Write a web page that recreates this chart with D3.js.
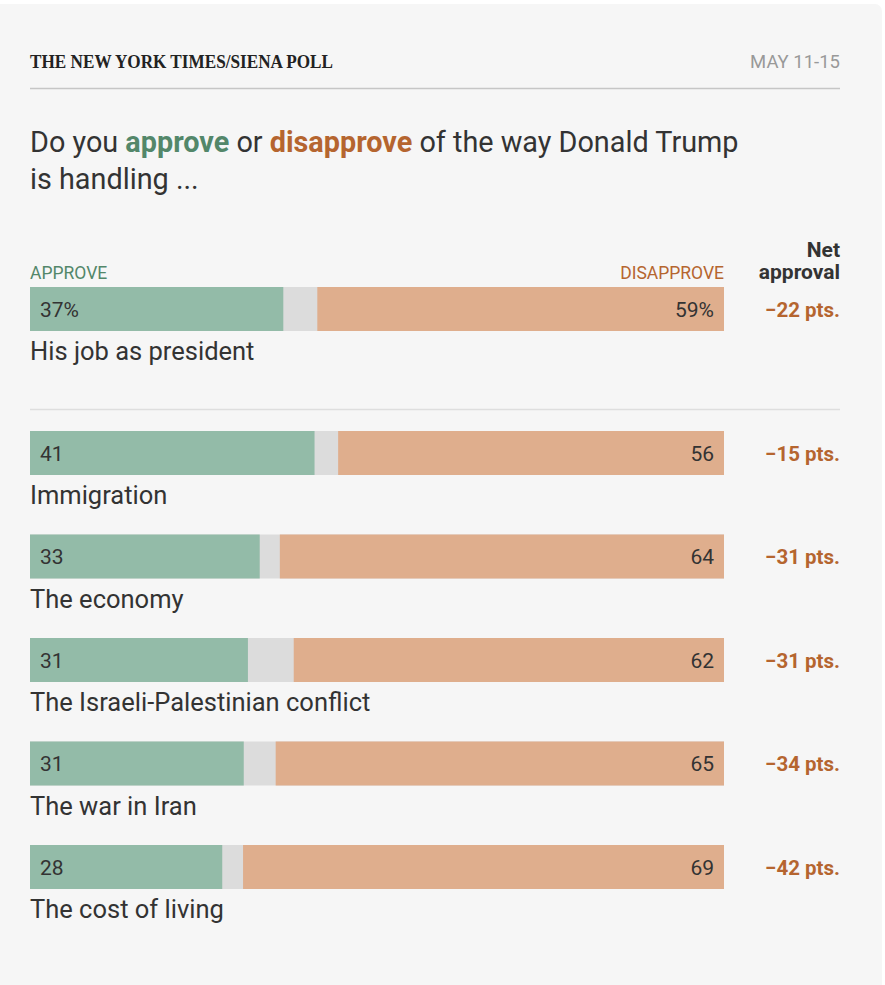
<!DOCTYPE html>
<html>
<head>
<meta charset="utf-8">
<title>Trump approval by issue</title>
<script src="https://d3js.org/d3.v7.min.js"></script>
<style>
  body { margin: 0; background: #fff; }
  text { font-family: Roboto, "Noto Sans", sans-serif; }
</style>
</head>
<body>
<div id="chart"></div>
<script>
// values (shares of respondents, %)
var overallLabel = "His job as president";
var overallApprove = 36.5;
var overallDisapprove = 58.6;
var overallNet = -22;

var issues = ["Immigration", "The economy", "The Israeli-Palestinian conflict", "The war in Iran", "The cost of living"];
var approve = [41.0, 33.1, 31.4, 30.8, 27.7];
var disapprove = [55.6, 64.0, 62.0, 64.6, 69.3];
var net = [-15, -31, -31, -34, -42];

var width = 885, height = 985;
var green = "#93bba8", orange = "#dfae8d", grey = "#dcdcdc";
var greenText = "#53876a", orangeText = "#b5652f", ink = "#333";

var svg = d3.select("#chart").append("svg")
    .attr("width", width)
    .attr("height", height);

// card
svg.append("rect")
    .attr("x", -10).attr("y", 4)
    .attr("width", 892).attr("height", 1000)
    .attr("rx", 7)
    .attr("fill", "#f6f6f6");

// header
svg.append("text")
    .attr("x", 30).attr("y", 68)
    .attr("textLength", 303)
    .attr("lengthAdjust", "spacingAndGlyphs")
    .style("font-family", "'Liberation Serif', serif")
    .style("font-weight", "bold")
    .style("font-size", "19px")
    .attr("fill", "#222")
    .text("THE NEW YORK TIMES/SIENA POLL");

svg.append("text")
    .attr("x", 840).attr("y", 68)
    .attr("text-anchor", "end")
    .style("font-size", "18.5px")
    .attr("fill", "#999")
    .text("MAY 11-15");

svg.append("line")
    .attr("x1", 30).attr("x2", 840)
    .attr("y1", 88.5).attr("y2", 88.5)
    .attr("stroke", "#c6c6c6")
    .attr("stroke-width", 1.5);

// question
var q = svg.append("text")
    .attr("x", 30).attr("y", 152)
    .style("font-size", "28.8px")
    .attr("fill", ink);
q.append("tspan").text("Do you ");
q.append("tspan").attr("fill", greenText).style("font-weight", "bold").text("approve");
q.append("tspan").text(" or ");
q.append("tspan").attr("fill", orangeText).style("font-weight", "bold").text("disapprove");
q.append("tspan").text(" of the way Donald Trump");

svg.append("text")
    .attr("x", 30).attr("y", 189)
    .style("font-size", "28.8px")
    .attr("fill", ink)
    .text("is handling ...");

// scales
var x = d3.scaleLinear().domain([0, 100]).range([30, 724]);
var barH = 44;
var y = d3.scaleLinear().domain([0, 1]).range([431, 534.5]);

// column heads
svg.append("text")
    .attr("x", 30).attr("y", 279)
    .style("font-size", "17.5px")
    .attr("fill", greenText)
    .text("APPROVE");
svg.append("text")
    .attr("x", x(100)).attr("y", 279)
    .attr("text-anchor", "end")
    .style("font-size", "17.5px")
    .attr("fill", orangeText)
    .text("DISAPPROVE");
svg.append("text")
    .attr("x", 840).attr("y", 257)
    .attr("text-anchor", "end")
    .style("font-size", "21px")
    .style("font-weight", "bold")
    .attr("fill", ink)
    .text("Net");
svg.append("text")
    .attr("x", 840).attr("y", 279)
    .attr("text-anchor", "end")
    .style("font-size", "21px")
    .style("font-weight", "bold")
    .attr("fill", ink)
    .text("approval");

function fmtNet(v) {
    return (v < 0 ? "\u2212" : "+") + Math.abs(v) + " pts.";
}

function drawRow(top, label, a, d, n, suffix) {
    var g = svg.append("g");
    g.append("rect")
        .attr("x", x(0)).attr("y", top)
        .attr("width", x(100) - x(0)).attr("height", barH)
        .attr("fill", grey);
    g.append("rect")
        .attr("x", x(0)).attr("y", top)
        .attr("width", x(a) - x(0)).attr("height", barH)
        .attr("fill", green);
    g.append("rect")
        .attr("x", x(100 - d)).attr("y", top)
        .attr("width", x(100) - x(100 - d)).attr("height", barH)
        .attr("fill", orange);
    g.append("text")
        .attr("x", x(0) + 10).attr("y", top + 29.5)
        .style("font-size", "21px")
        .attr("fill", ink)
        .text(Math.round(a) + suffix);
    g.append("text")
        .attr("x", x(100) - 10).attr("y", top + 29.5)
        .attr("text-anchor", "end")
        .style("font-size", "21px")
        .attr("fill", ink)
        .text(Math.round(d) + suffix);
    g.append("text")
        .attr("x", 840).attr("y", top + 29.5)
        .attr("text-anchor", "end")
        .style("font-size", "20.5px")
        .style("font-weight", "bold")
        .attr("fill", orangeText)
        .text(fmtNet(n));
    g.append("text")
        .attr("x", 30).attr("y", top + 73)
        .style("font-size", "25.5px")
        .attr("fill", ink)
        .text(label);
}

drawRow(287, overallLabel, overallApprove, overallDisapprove, overallNet, "%");

svg.append("line")
    .attr("x1", 30).attr("x2", 840)
    .attr("y1", 409.5).attr("y2", 409.5)
    .attr("stroke", "#dedede")
    .attr("stroke-width", 1.5);

issues.forEach(function(name, i) {
    drawRow(y(i), name, approve[i], disapprove[i], net[i], "");
});
</script>
</body>
</html>
